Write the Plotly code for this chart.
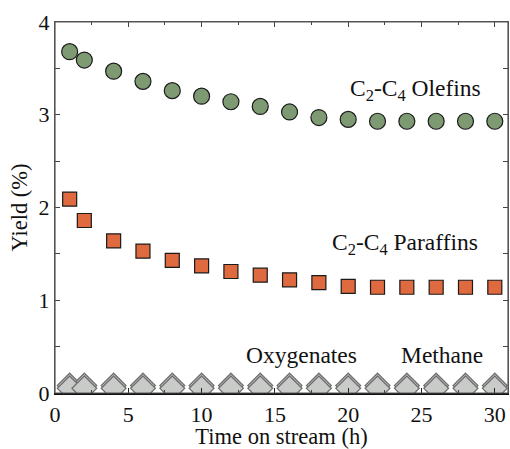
import plotly.graph_objects as go

time_h = [1, 2, 4, 6, 8, 10, 12, 14, 16, 18, 20, 22, 24, 26, 28, 30]
olefins = [3.68, 3.59, 3.47, 3.36, 3.26, 3.20, 3.14, 3.09, 3.03, 2.97, 2.95, 2.93, 2.93, 2.93, 2.93, 2.93]
paraffins = [2.09, 1.86, 1.64, 1.53, 1.43, 1.37, 1.31, 1.27, 1.22, 1.19, 1.15, 1.14, 1.14, 1.14, 1.14, 1.14]
oxygenates = [0.08] * 16
methane = [0.05] * 16
x_ticks = [0, 5, 10, 15, 20, 25, 30]
y_ticks = [0, 1, 2, 3, 4]

FONT = "Liberation Serif"
fig = go.Figure()
fig.add_trace(go.Scatter(x=time_h, y=oxygenates, mode="markers", name="Oxygenates",
                         marker=dict(symbol="diamond", size=19, color="#c9cbc9",
                                     line=dict(color="#6f6f6f", width=1.3))))
fig.add_trace(go.Scatter(x=time_h, y=methane, mode="markers", name="Methane",
                         marker=dict(symbol="diamond", size=19, color="#c9cbc9",
                                     line=dict(color="#6f6f6f", width=1.3))))
fig.add_trace(go.Scatter(x=time_h, y=paraffins, mode="markers", name="C2-C4 Paraffins",
                         marker=dict(symbol="square", size=14, color="#e06a40",
                                     line=dict(color="#1a1a1a", width=1.2))))
fig.add_trace(go.Scatter(x=time_h, y=olefins, mode="markers", name="C2-C4 Olefins",
                         marker=dict(symbol="circle", size=16, color="#7d9a72",
                                     line=dict(color="#1a1a1a", width=1.2))))
# invisible trace to materialise the top axis
fig.add_trace(go.Scatter(x=[0], y=[0], xaxis="x2", mode="markers",
                         marker=dict(opacity=0), hoverinfo="skip", showlegend=False))

ann_font = dict(family=FONT, size=23.5, color="#111")
fig.add_annotation(x=24.6, y=3.27, text="C<sub>2</sub>-C<sub>4</sub> Olefins", showarrow=False, font=ann_font)
fig.add_annotation(x=23.9, y=1.61, text="C<sub>2</sub>-C<sub>4</sub> Paraffins", showarrow=False, font=ann_font)
fig.add_annotation(x=16.8, y=0.41, text="Oxygenates", showarrow=False, font=ann_font)
fig.add_annotation(x=26.4, y=0.41, text="Methane", showarrow=False, font=ann_font)

# plot frame (grey) on top/right/left
fig.add_shape(type="rect", xref="paper", yref="paper", x0=0, y0=0, x1=1, y1=1,
              line=dict(color="#555", width=1.2), layer="above")

fig.update_layout(
    width=510, height=449, showlegend=False,
    paper_bgcolor="white", plot_bgcolor="white",
    margin=dict(l=55, r=2, t=22, b=56),
    font=dict(family=FONT, size=22, color="#111"),
    xaxis=dict(range=[0, 30.9], tickvals=x_ticks, ticks="inside", ticklen=5, tickwidth=1,
               tickcolor="#222", showline=True, linecolor="#111", linewidth=2.4,
               showgrid=False, zeroline=False,
               minor=dict(dtick=2.5, ticks="inside", ticklen=3, tickcolor="#444"),
               title=dict(text="Time on stream (h)", standoff=0, font=dict(size=22.5)),
               tickfont=dict(size=22)),
    xaxis2=dict(range=[0, 30.9], overlaying="x", side="top", tickvals=x_ticks,
                showticklabels=False, ticks="inside", ticklen=5, tickcolor="#444",
                showline=True, linecolor="#555", linewidth=1.2, showgrid=False, zeroline=False,
                minor=dict(dtick=2.5, ticks="inside", ticklen=3, tickcolor="#444")),
    yaxis=dict(range=[0, 4], tickvals=y_ticks, ticks="inside", ticklen=5, tickcolor="#444",
               showline=True, linecolor="#555", linewidth=1.2, mirror="allticks",
               showgrid=False, zeroline=False,
               minor=dict(dtick=0.5, ticks="inside", ticklen=4, tickcolor="#444"),
               title=dict(text="Yield (%)", standoff=4, font=dict(size=22.5)),
               tickfont=dict(size=22)),
)
fig.write_html("out.html", config={"displayModeBar": False},
               post_script="document.body.style.margin='0';document.body.style.overflow='hidden';")
